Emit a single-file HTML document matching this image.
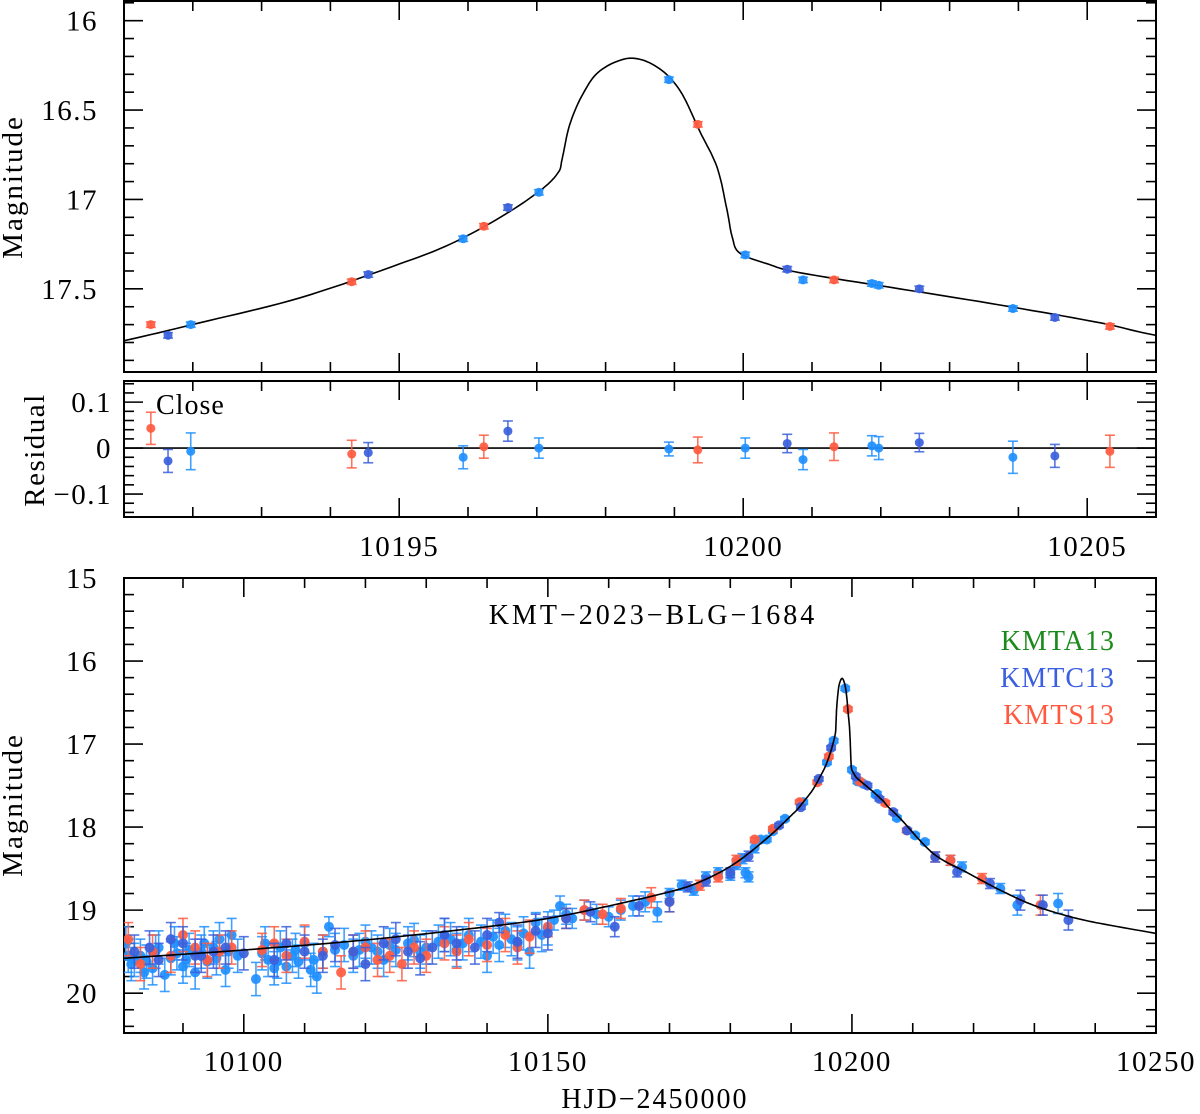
<!DOCTYPE html>
<html><head><meta charset="utf-8"><style>
html,body{margin:0;padding:0;background:#fff}
svg{display:block}
text{font-family:"Liberation Serif",serif;fill:#000}
</style></head><body>
<svg id="chart" width="1200" height="1114" viewBox="0 0 1200 1114" xmlns="http://www.w3.org/2000/svg">
<g id="marks"></g>
<text x="22" y="187" font-size="29" letter-spacing="2" text-anchor="middle" transform="rotate(-90 22 187)">Magnitude</text>
<text x="44" y="450" font-size="29" letter-spacing="1.5" text-anchor="middle" transform="rotate(-90 44 450)">Residual</text>
<text x="156" y="414" font-size="28" letter-spacing="1">Close</text>
<text x="22" y="805" font-size="29" letter-spacing="2" text-anchor="middle" transform="rotate(-90 22 805)">Magnitude</text>
<text x="655" y="1108" font-size="28" letter-spacing="2" text-anchor="middle">HJD−2450000</text>
<text x="653" y="624" font-size="28" letter-spacing="3" text-anchor="middle">KMT−2023−BLG−1684</text>
<text x="1115" y="650" font-size="28" letter-spacing="1" text-anchor="end" style="fill:#1a8a1a">KMTA13</text>
<text x="1115" y="687" font-size="28" letter-spacing="1" text-anchor="end" style="fill:#3a5fe0">KMTC13</text>
<text x="1115" y="724" font-size="28" letter-spacing="1" text-anchor="end" style="fill:#ff5a40">KMTS13</text>
</svg>
<script>
// ---- data ----
const modelDays = [10080.3,10100,10120,10140,10150,10160,10170,10175,10180.5,10186.1,10190.3,10191.0,10192.1,10193.56,10195.01,10195.74,10196.47,10197.05,10197.31,10197.37,10197.48,10197.67,10197.92,10198.35,10198.75,10199.08,10199.37,10199.62,10199.76,10199.84,10199.95,10200.35,10200.83,10202.28,10203.73,10205.19,10206.0,10208,10213.4,10219,10224.4,10229.8,10235.4,10240.8,10250];
const modelMags = [19.58,19.48,19.36,19.2,19.1,18.95,18.78,18.66,18.45,18.13,17.84,17.79,17.69,17.55,17.36,17.25,17.10,16.95,16.85,16.77,16.58,16.41,16.28,16.21,16.26,16.39,16.62,16.82,17.05,17.21,17.30,17.36,17.41,17.50,17.59,17.69,17.76,17.90,18.32,18.55,18.76,18.94,19.07,19.16,19.28];

const zoomDays = [10191.39,10191.64,10191.97,10194.31,10194.55,10195.93,10196.23,10196.58,10197.03,10198.92,10199.34,10200.03,10200.64,10200.87,10201.32,10201.87,10201.97,10202.56,10203.92,10204.53,10205.33];
const zoomMags = [17.70,17.76,17.70,17.46,17.42,17.22,17.15,17.045,16.96,16.33,16.58,17.31,17.39,17.45,17.45,17.47,17.48,17.50,17.61,17.66,17.71];
const zoomResid = [0.043,-0.028,-0.007,-0.013,-0.01,-0.02,0.003,0.037,0,-0.002,-0.004,0,0.01,-0.025,0.003,0.005,0,0.012,-0.02,-0.017,-0.007];
const zoomResidErr = [0.035,0.025,0.04,0.03,0.022,0.025,0.025,0.022,0.022,0.015,0.028,0.022,0.02,0.022,0.03,0.022,0.025,0.02,0.035,0.025,0.035];
const zoomSeries = ['r','d','l','r','d','l','r','d','l','l','r','l','d','l','r','l','l','d','l','d','r'];

const lightDays = [10080.6,10081,10081.5,10082,10083,10083.6,10084,10085,10085.5,10086,10087,10088,10088.6,10089,10090,10090.5,10091,10092,10093,10093.5,10094,10095,10095.5,10096,10097,10097.5,10098,10099,10102,10103,10103.5,10104,10105,10105.5,10106,10107,10108,10108.5,10109,10110,10111,10111.5,10112,10113,10114,10115,10116.5,10118,10119,10120,10121,10122,10123,10124,10125,10127,10128,10129,10130,10132,10133,10134,10135,10136,10137,10139,10140,10141,10142,10143,10144,10145,10146,10147,10148,10149,10150,10151,10152,10153,10154,10156,10158,10160,10162,10164,10166,10168,10170,10172,10174,10176,10178,10180,10181,10182,10182.5,10183,10184,10185,10186,10187,10189,10192,10195.9,10197.0,10198.9,10200.0,10200.9,10201.9,10203.9,10204.1,10207.4,10210.4,10212.0,10216.2,10218.1,10224.4,10227.2,10233.9];
const lightMags = [19.40,19.55,19.65,19.60,19.55,19.75,19.62,19.70,19.50,19.45,19.78,19.58,19.40,19.52,19.68,19.60,19.48,19.75,19.50,19.40,19.62,19.45,19.58,19.35,19.72,19.50,19.30,19.55,19.83,19.52,19.40,19.60,19.70,19.62,19.45,19.68,19.55,19.48,19.62,19.40,19.72,19.60,19.80,19.50,19.20,19.48,19.42,19.55,19.48,19.38,19.45,19.50,19.60,19.42,19.48,19.40,19.36,19.50,19.45,19.38,19.30,19.35,19.48,19.40,19.30,19.38,19.55,19.32,19.42,19.25,19.35,19.40,19.28,19.50,19.15,19.30,19.22,19.12,18.95,19.05,19.10,19.00,19.05,19.08,19.00,18.95,18.90,19.02,18.80,18.70,18.76,18.60,18.55,18.58,18.45,18.38,18.55,18.60,18.25,18.15,18.15,18.05,17.90,17.70,17.22,16.96,16.33,17.31,17.45,17.48,17.61,17.60,17.89,18.10,18.18,18.40,18.48,18.74,18.94,18.92];
const darkDays = [10082,10084.5,10086,10088,10090,10092,10093,10095,10097,10100,10105,10107,10110,10113,10115,10118,10120,10123,10125,10127,10129,10131,10133,10135,10138,10140,10142,10145,10148,10150,10153,10157,10161,10165,10170,10173,10176,10180,10183,10188,10191.6,10194.55,10196.58,10200.64,10202.56,10204.53,10206.8,10209.1,10213.7,10217.3,10222.7,10227.7,10231.4,10235.6];
const darkMags = [19.50,19.45,19.60,19.35,19.40,19.55,19.55,19.50,19.45,19.52,19.60,19.40,19.50,19.55,19.42,19.50,19.65,19.40,19.35,19.50,19.58,19.45,19.30,19.40,19.45,19.30,19.15,19.38,19.25,19.28,19.10,19.02,19.20,18.95,18.90,18.72,18.65,18.55,18.35,17.98,17.76,17.42,17.045,17.39,17.50,17.66,17.82,18.04,18.36,18.54,18.68,18.88,18.94,19.12];
const redDays = [10081,10083,10085,10088,10090,10092,10094,10096,10098,10103,10105,10107,10110,10113,10116,10118,10120,10122,10124,10126,10128,10130,10133,10135,10137,10140,10143,10145,10147,10150,10153,10156,10159,10162,10167,10170,10175,10178,10181,10184,10187,10191.4,10194.3,10196.2,10199.34,10201.3,10205.5,10209.0,10213.7,10216.2,10221.4,10231.0];
const redMags = [19.35,19.65,19.50,19.55,19.30,19.45,19.60,19.50,19.45,19.48,19.40,19.55,19.38,19.50,19.75,19.50,19.45,19.60,19.55,19.65,19.45,19.55,19.40,19.50,19.35,19.42,19.30,19.45,19.32,19.20,19.10,19.00,19.05,18.98,18.85,18.90,18.70,18.60,18.40,18.15,18.02,17.70,17.46,17.15,16.58,17.45,17.71,18.04,18.36,18.40,18.62,18.94];

const topYTicks = [16,16.5,17,17.5];
const residYTicks = [0.1,0,-0.1];
const residYTickLabels = ['0.1','0','−0.1'];
const zoomXTicks = [10195,10200,10205];
const botYTicks = [15,16,17,18,19,20];
const botXTicks = [10100,10150,10200,10250];

// ---- layout ----
const L=124,R=1156;
const P1={t:1,b:372,x0:10191,x1:10206,y0:15.89,y1:17.965};
const P2={t:381,b:517,x0:10191,x1:10206,y0:0.146,y1:-0.15};
const P3={t:578,b:1033,x0:10080.3,x1:10250,y0:15,y1:20.48};
const COL={l:'#1e8fff',d:'#3a5fdc',r:'#ff5a40'};
const NS='http://www.w3.org/2000/svg';
const marks=document.getElementById('marks');
function el(tag,attrs,parent){const e=document.createElementNS(NS,tag);for(const k in attrs)e.setAttribute(k,attrs[k]);(parent||marks).appendChild(e);return e;}
function sx(P,d){return L+(d-P.x0)/(P.x1-P.x0)*(R-L);}
function sy(P,v){return P.t+(v-P.y0)/(P.y1-P.y0)*(P.b-P.t);}
function errFor(m){return m>19.2?0.2:m>18.8?0.12:m>18.2?0.06:0.025;}

function frame(P,name,xMaj,xMin,yMaj,yMin){
  const g=el('g',{});
  
  
  el('rect',{x:L,y:P.t,width:R-L,height:P.b-P.t,fill:'none',stroke:'#000','stroke-width':2},g);
  const xs=Math.ceil(P.x0/xMin)*xMin;
  for(let v=xs;v<=P.x1+1e-6;v+=xMin){
    const x=sx(P,v);const maj=Math.abs(v/xMaj-Math.round(v/xMaj))<1e-6;const len=maj?19:10;
    el('line',{x1:x,x2:x,y1:P.b,y2:P.b-len,stroke:'#000','stroke-width':1.6},g);
    el('line',{x1:x,x2:x,y1:P.t,y2:P.t+len,stroke:'#000','stroke-width':1.6},g);
  }
  const lo=Math.min(P.y0,P.y1),hi=Math.max(P.y0,P.y1);
  const ys=Math.ceil(lo/yMin-1e-6)*yMin;
  for(let v=ys;v<=hi+1e-6;v+=yMin){
    const y=sy(P,v);const maj=Math.abs(v/yMaj-Math.round(v/yMaj))<1e-4;const len=maj?19:10;
    el('line',{x1:L,x2:L+len,y1:y,y2:y,stroke:'#000','stroke-width':1.6},g);
    el('line',{x1:R,x2:R-len,y1:y,y2:y,stroke:'#000','stroke-width':1.6},g);
  }
  return g;
}
function modelPath(P,name,parent){
  let d='';const n=modelDays.length;
  for(let i=0;i<n-1;i++){
    const p0=[modelDays[Math.max(0,i-1)],modelMags[Math.max(0,i-1)]],p1=[modelDays[i],modelMags[i]],p2=[modelDays[i+1],modelMags[i+1]],p3=[modelDays[Math.min(n-1,i+2)],modelMags[Math.min(n-1,i+2)]];
    for(let s=0;s<=10;s++){const t=s/10,t2=t*t,t3=t2*t;
      const X=0.5*((2*p1[0])+(-p0[0]+p2[0])*t+(2*p0[0]-5*p1[0]+4*p2[0]-p3[0])*t2+(-p0[0]+3*p1[0]-3*p2[0]+p3[0])*t3);
      const Y=0.5*((2*p1[1])+(-p0[1]+p2[1])*t+(2*p0[1]-5*p1[1]+4*p2[1]-p3[1])*t2+(-p0[1]+3*p1[1]-3*p2[1]+p3[1])*t3);
      d+=(d?'L':'M')+sx(P,X).toFixed(1)+','+sy(P,Y).toFixed(1);}
  }
  const p=el('path',{d:d,fill:'none',stroke:'#000','stroke-width':1.6},parent);
  
  
}
function point(P,d,m,e,c,r,name,parent){
  const x=sx(P,d),y=sy(P,m),y1=sy(P,m-e),y2=sy(P,m+e);
  const g=el('g',{stroke:c,fill:c,'fill-opacity':0.92,'stroke-opacity':0.85,'stroke-width':1.6},parent);
  
  
  el('line',{x1:x,x2:x,y1:y1,y2:y2},g);
  el('line',{x1:x-5,x2:x+5,y1:y1,y2:y1},g);
  el('line',{x1:x-5,x2:x+5,y1:y2,y2:y2},g);
  el('circle',{cx:x,cy:y,r:r,stroke:'none'},g);
}
const defs=el('defs',{});
[['c1',P1],['c2',P2],['c3',P3]].forEach(([id,P])=>{const cp=el('clipPath',{id:id},defs);el('rect',{x:L,y:P.t,width:R-L,height:P.b-P.t},cp);});
function tickText(x,y,anchor,str,name){const t=el('text',{x:x,y:y,'font-size':29,'letter-spacing':1.5,'text-anchor':anchor});t.textContent=str;}

// panel 1
frame(P1,'zoom-panel',5,1,0.5,0.1);
const g1=el('g',{'clip-path':'url(#c1)'});


modelPath(P1,'zoom-model-curve',g1);
zoomDays.forEach((d,i)=>point(P1,d,zoomMags[i],0.015,COL[zoomSeries[i]],4.5,'zoom-point',g1));
topYTicks.forEach(v=>tickText(98,sy(P1,v)+10,'end',String(v),'zoom-y-tick-label'));

// panel 2
frame(P2,'residual-panel',5,1,0.1,0.02);
const g2=el('g',{'clip-path':'url(#c2)'});


el('line',{x1:L,x2:R,y1:sy(P2,0),y2:sy(P2,0),stroke:'#000','stroke-width':1.6},g2);
zoomDays.forEach((d,i)=>point(P2,d,zoomResid[i],zoomResidErr[i],COL[zoomSeries[i]],4.5,'residual-point',g2));
residYTicks.forEach((v,i)=>tickText(112,sy(P2,v)+10,'end',residYTickLabels[i],'residual-y-tick-label'));
zoomXTicks.forEach(v=>tickText(sx(P2,v),556,'middle',String(v),'zoom-x-tick-label'));

// panel 3
frame(P3,'full-panel',50,10,1,0.2);
const g3=el('g',{'clip-path':'url(#c3)'});


const seriesList=[['l',lightDays,lightMags],['r',redDays,redMags],['d',darkDays,darkMags]];
seriesList.forEach(([k,ds,ms])=>ds.forEach((d,i)=>point(P3,d,ms[i],errFor(ms[i]),COL[k],5,'lightcurve-point',g3)));
modelPath(P3,'full-model-curve',g3);
botYTicks.forEach(v=>tickText(98,sy(P3,v)+10,'end',String(v),'full-y-tick-label'));
botXTicks.forEach(v=>tickText(sx(P3,v),1071,'middle',String(v),'full-x-tick-label'));
</script>
</body></html>
